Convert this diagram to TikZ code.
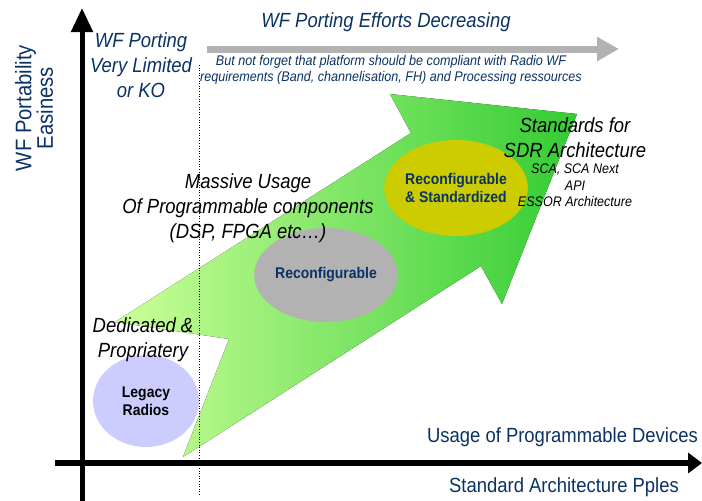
\documentclass[tikz,border=0pt]{standalone}
\usepackage{fontspec}
\setmainfont[FakeStretch=0.9]{Liberation Sans}
\usetikzlibrary{shapes.geometric,arrows.meta}
\definecolor{dblue}{RGB}{10,50,100}
\definecolor{gleft}{RGB}{204,255,153}
\definecolor{gright}{RGB}{51,204,51}
\definecolor{lav}{RGB}{204,204,255}
\definecolor{grayell}{RGB}{178,178,178}
\definecolor{yell}{RGB}{204,204,0}
\definecolor{grayarr}{RGB}{178,178,178}
\tikzset{
  blob/.style={ellipse, inner sep=0pt, align=center, font=\fontsize{15.5}{18.5}\selectfont\bfseries},
  bigit/.style={align=center, font=\fontsize{20.5}{25}\selectfont\itshape, inner sep=0pt},
  smallit/.style={align=center, font=\fontsize{13.9}{16.5}\selectfont\itshape, inner sep=0pt},
  axislbl/.style={font=\fontsize{20.5}{22}\selectfont, text=dblue, inner sep=0pt},
  axisline/.style={draw=black},
}
\begin{document}
\begin{tikzpicture}[x=1pt,y=-1pt]
\useasboundingbox (0,0) rectangle (702,501);
% big green arrow
\fill[left color=gleft, right color=gright]
  (183,457) -- (229,339) -- (115,322) -- (411,133) -- (390,94) -- (577,114)
  -- (502,304) -- (481,266) -- cycle;
% ellipses
\node[blob, fill=lav, minimum width=106pt, minimum height=92pt] (legacy) at (146,401) {Legacy\\Radios};
\node[blob, fill=grayell, text=dblue, minimum width=127pt, minimum height=94pt] (reconf) at (326,275) {Reconfigurable};
\node[blob, fill=yell, text=dblue, minimum width=129pt, minimum height=96pt] (recstd) at (456,188) {Reconfigurable\\\& Standardized};
% texts
\node[rotate=90, align=center, font=\fontsize{22.5}{21.5}\selectfont, text=dblue, inner sep=0pt] (yl) at (34,108) {WF Portability\\Easiness};
\node[bigit, text=dblue] (limited) at (141,65) {WF Porting\\Very Limited\\or KO};
\node[bigit, text=dblue] (effort) at (386,22) {WF Porting Efforts Decreasing};
\node[font=\fontsize{14}{16.5}\selectfont\itshape, align=center, text=dblue, inner sep=0pt] (notforget) at (391,70) {But not forget that platform should be compliant with Radio WF\\requirements (Band, channelisation, FH) and Processing ressources};
\node[bigit] (massive) at (248,208) {Massive Usage\\Of Programmable components\\(DSP, FPGA etc\ldots)};
\node[bigit] (dedicated) at (143,339.5) {Dedicated \&\\Propriatery};
\node[bigit] (standards) at (575,137.5) {Standards for\\SDR Architecture};
\node[smallit] (sca) at (575,185.5) {SCA, SCA Next\\API\\ESSOR Architecture};
\node[axislbl, anchor=east] (usage) at (698,437) {Usage of Programmable Devices};
\node[axislbl] (stdarch) at (564,487) {Standard Architecture Pples};
% gray arrow
\coordinate (ga1) at (207,49);
\coordinate (ga2) at (619,49);
\draw[grayarr, line width=7pt, -{Triangle[width=23pt,length=22pt]}] (ga1) -- (ga2);
% dotted separator
\coordinate (d1) at (199,65);
\coordinate (d2) at (199,495);
\draw[black, line width=0.6pt, dotted] (d1) -- (d2);
% axes
\coordinate (yb) at (82,501);
\coordinate (yt) at (82,8);
\coordinate (xl) at (55,463);
\coordinate (xr) at (702,463);
\draw[axisline, line width=5pt, -{Triangle[width=21pt,length=24pt]}] (yb) -- (yt);
\draw[axisline, line width=6pt, -{Triangle[width=20pt,length=14pt]}] (xl) -- (xr);
\end{tikzpicture}
\end{document}
